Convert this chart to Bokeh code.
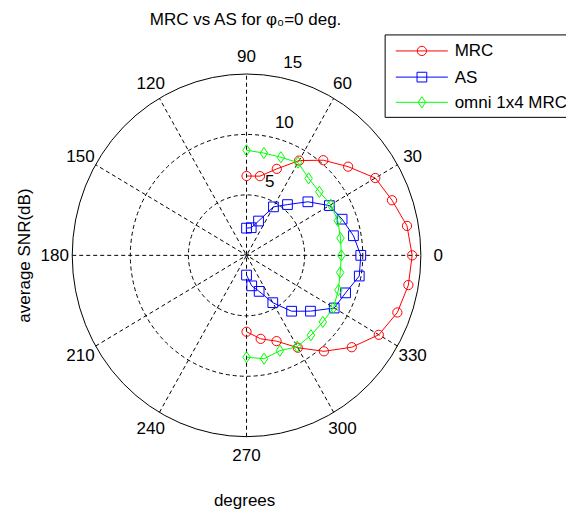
import numpy as np
from bokeh.plotting import figure
from bokeh.models import Range1d
from bokeh.embed import file_html
from bokeh.resources import INLINE
from bokeh.core.properties import value

# ---------------- data ----------------
angles_deg = [-90, -80, -70, -60, -50, -40, -30, -20, -10, 0,
              10, 20, 30, 40, 50, 60, 70, 80, 90]
mrc = [6.32, 7.01, 7.55, 8.82, 10.36, 11.82, 13.14, 13.81, 14.14, 14.25,
       14.02, 13.32, 12.79, 11.41, 10.27, 9.05, 7.61, 6.65, 6.56]
as_snr = [1.63, 2.56, 3.17, 4.52, 6.03, 7.18, 8.71, 9.07, 9.85, 9.83,
          9.34, 8.75, 8.23, 6.89, 5.48, 4.63, 3.02, 2.32, 2.25]
omni = [8.42, 8.68, 8.39, 8.72, 8.62, 8.57, 8.64, 8.41, 8.18, 8.16,
        8.21, 8.36, 8.37, 8.18, 8.31, 8.86, 8.63, 8.59, 8.69]
ring_ticks = [5, 10, 15]
angle_ticks = [0, 30, 60, 90, 120, 150, 180, 210, 240, 270, 300, 330]
series_names = ["MRC", "AS", "omni 1x4 MRC"]
title_text = "MRC vs AS for \u03c6\u2080=0 deg."
xlabel_text = "degrees"
ylabel_text = "average SNR(dB)"

# ---------------- layout ----------------
W, H = 566, 513            # figure size (fits the 582x529 window with 8px margins)
REF_W, REF_H = 582, 529    # layout designed in a 582x529 frame, scaled into W x H
CX, CY = 253.0, 262.8      # pole position in the layout frame
SX, SY = 11.95, 12.47      # layout pixels per dB horizontally / vertically
K = W / REF_W
FONT = value("Liberation Sans")
FS = "17px"


def px(xi):
    return (xi - CX) / SX


def py(yi):
    return (CY - yi) / SY


p = figure(width=W, height=H, output_backend="svg", toolbar_location=None,
           x_range=Range1d(px(0), px(REF_W)),
           y_range=Range1d(py(REF_H), py(0)),
           x_axis_location=None, y_axis_location=None, title=None,
           min_border=0, outline_line_color=None,
           background_fill_color="white", border_fill_color="white")
p.grid.grid_line_color = None

rmax = max(ring_ticks)
DASH = "4 3"

# outer circle (solid) and inner rings (dashed)
p.ellipse(x=0, y=0, width=2 * rmax, height=2 * rmax, fill_color="white",
          line_color="black", line_width=1)
for r in ring_ticks[:-1]:
    p.ellipse(x=0, y=0, width=2 * r, height=2 * r, fill_color=None,
              line_color="black", line_width=1, line_dash=DASH)

# spokes
spoke_a = np.deg2rad([a for a in angle_ticks if a < 180])
p.segment(x0=-rmax * np.cos(spoke_a), y0=-rmax * np.sin(spoke_a),
          x1=rmax * np.cos(spoke_a), y1=rmax * np.sin(spoke_a),
          line_color="black", line_width=1, line_dash=DASH)

# angle labels
ta = np.deg2rad(angle_ticks)
p.text(x=1.1 * rmax * np.cos(ta), y=1.1 * rmax * np.sin(ta),
       text=[str(a) for a in angle_ticks], text_font=FONT, text_font_size=FS,
       text_align="center", text_baseline="middle", text_color="black")

# ring labels
ring_ang = np.deg2rad([72, 73.5, 76])
ring_r = np.array(ring_ticks) + 1.46
p.text(x=ring_r * np.cos(ring_ang), y=ring_r * np.sin(ring_ang),
       text=[str(r) for r in ring_ticks], text_font=FONT, text_font_size=FS,
       text_align="center", text_baseline="middle", text_color="black")

# data series
th = np.deg2rad(angles_deg)
series = [(mrc, "#ff0000", "circle", 9.5 * K), (as_snr, "#0000ff", "square", 10 * K),
          (omni, "#00ff00", "diamond", 11.5 * K)]
for vals, col, mk, sz in series:
    r = np.array(vals)
    x = r * np.cos(th)
    y = r * np.sin(th)
    p.line(x, y, line_color=col, line_width=1)
    p.scatter(x, y, marker=mk, size=sz, fill_color=None, line_color=col,
              line_width=1)

# title and axis labels
p.text(x=[px(252.5)], y=[py(19.5)], text=[title_text], text_font=FONT,
       text_font_size=FS, text_align="center", text_baseline="middle",
       text_color="black")
p.text(x=[px(251)], y=[py(516)], text=[xlabel_text], text_font=FONT,
       text_font_size=FS, text_align="center", text_baseline="alphabetic",
       text_color="black")
p.text(x=[px(25)], y=[py(263)], text=[ylabel_text], text_font=FONT,
       text_font_size=FS, text_align="center", text_baseline="middle",
       angle=np.pi / 2, text_color="black")

# legend
p.quad(left=[px(395.5)], right=[px(700)], top=[py(35.5)], bottom=[py(120.5)],
       fill_color="white", line_color="black", line_width=1)
rows_y = [52, 79, 105]
for (vals, col, mk, sz), name, yy in zip(series, series_names, rows_y):
    p.line([px(406.5), px(460)], [py(yy), py(yy)], line_color=col, line_width=1)
    p.scatter([px(433.3)], [py(yy)], marker=mk, size=sz, fill_color=None,
              line_color=col, line_width=1)
    p.text(x=[px(467)], y=[py(yy)], text=[name], text_font=FONT,
           text_font_size=FS, text_align="left", text_baseline="middle",
           text_color="black")

open("out.html", "w").write(file_html(p, INLINE))
